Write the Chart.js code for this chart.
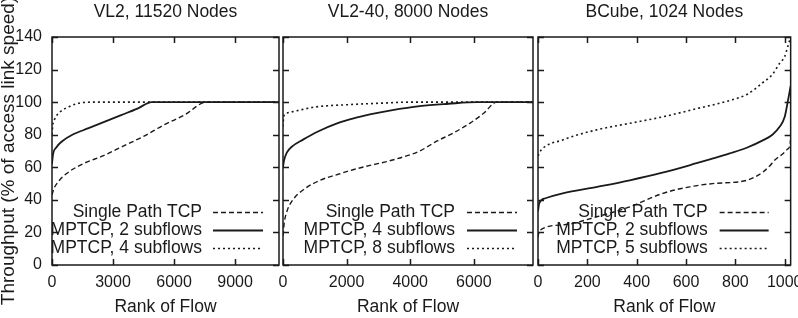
<!DOCTYPE html>
<html>
<head>
<meta charset="UTF-8" />
<title>Throughput by flow rank</title>
<script src="https://cdn.jsdelivr.net/npm/chart.js"></script>
<style>
  html, body { margin: 0; padding: 0; overflow: hidden; background: #fff; }
  body { width: 798px; height: 318px; position: relative; }
  .panel { position: absolute; top: 0; height: 318px; }
</style>
</head>
<body>
<div class="panel" style="left:0;width:338px"><canvas id="c1"></canvas></div>
<div class="panel" style="left:263px;width:290px"><canvas id="c2"></canvas></div>
<div class="panel" style="left:518px;width:293px"><canvas id="c3"></canvas></div>
<script>
// ---- data ----
const yTicks = [0, 20, 40, 60, 80, 100, 120, 140];

// VL2, 11520 nodes
const vl2Ticks   = [0, 3000, 6000, 9000];
const vl2TcpRank = [0, 100, 300, 700, 1500, 2500, 3500, 4500, 5500, 6500, 7600, 11160];
const vl2TcpVal  = [43, 47, 51, 56, 62, 67, 73, 79, 86, 92, 100, 100];
const vl2Mp2Rank = [0, 50, 200, 500, 1000, 1800, 2600, 3400, 4200, 4900, 11160];
const vl2Mp2Val  = [62, 68, 72, 76, 80, 84, 88, 92, 96, 100, 100];
const vl2Mp4Rank = [0, 30, 150, 400, 800, 1300, 1900, 11160];
const vl2Mp4Val  = [80, 85, 90, 94, 97, 99.3, 100, 100];
const vl2Labels  = ['Single Path TCP', 'MPTCP, 2 subflows', 'MPTCP, 4 subflows'];

// VL2-40, 8000 nodes
const vl40Ticks   = [0, 2000, 4000, 6000];
const vl40TcpRank = [0, 40, 125, 310, 700, 1160, 1700, 2200, 2700, 3260, 3800, 4300, 4830, 5350, 5870, 6300, 6720, 7860];
const vl40TcpVal  = [18, 26, 33, 40, 47, 52, 55.5, 58.5, 61, 63.5, 66.5, 70, 76, 81, 87, 93, 100, 100];
const vl40Mp4Rank = [0, 30, 120, 300, 630, 1100, 1700, 2300, 2730, 3400, 4300, 5200, 6100, 7860];
const vl40Mp4Val  = [60, 64, 69, 73, 77, 82, 87, 90.5, 92.5, 95, 97.6, 99, 100, 100];
const vl40Mp8Rank = [0, 20, 125, 500, 1000, 2100, 3000, 4000, 7860];
const vl40Mp8Val  = [85, 91, 93.3, 95, 97, 98.5, 99.3, 100, 100];
const vl40Labels  = ['Single Path TCP', 'MPTCP, 4 subflows', 'MPTCP, 8 subflows'];

// BCube, 1024 nodes
const bcTicks   = [0, 200, 400, 600, 800, 1000];
const bcTcpRank = [0, 5, 100, 238, 372, 506, 615, 708, 846, 911, 940, 960, 990, 1010, 1020, 1024];
const bcTcpVal  = [17, 21, 24.6, 29.6, 35.7, 44, 48, 50, 52, 57, 61, 64.5, 68, 71, 73, 77];
const bcMp2Rank = [0, 5, 30, 100, 240, 372, 500, 643, 700, 777, 846, 911, 950, 980, 1000, 1012, 1024];
const bcMp2Val  = [33, 38, 41, 44, 48, 52, 56.5, 62.5, 65, 68.5, 72, 76.5, 80, 85, 91, 100, 110];
const bcMp5Rank = [0, 10, 100, 238, 372, 506, 643, 777, 850, 911, 950, 980, 1000, 1012, 1024];
const bcMp5Val  = [67, 70, 76.8, 83, 87, 91, 96, 101, 105, 112, 117, 124, 128, 134, 140];
const bcLabels  = ['Single Path TCP', 'MPTCP, 2 subflows', 'MPTCP, 5 subflows'];

const FONT = '"Liberation Sans", Arial, Helvetica, sans-serif';
const INK = '#1a1a1a';

const pts = (xs, ys) => xs.map((x, i) => ({ x, y: ys[i] }));

// gnuplot-like frame: box, inward ticks on all sides, legend inside bottom right
const framePlugin = {
  id: 'frame',
  afterDatasetsDraw(chart) {
    const { ctx, chartArea: a, scales: { x, y } } = chart;
    const o = chart.options.plugins.frame;
    ctx.save();
    ctx.strokeStyle = INK;
    ctx.lineWidth = 1.5;
    ctx.setLineDash([]);
    ctx.beginPath();
    x.ticks.forEach(t => {
      const px = Math.round(x.getPixelForValue(t.value)) + 0.5;
      ctx.moveTo(px, a.bottom); ctx.lineTo(px, a.bottom - 6);
      ctx.moveTo(px, a.top); ctx.lineTo(px, a.top + 6);
    });
    y.ticks.forEach(t => {
      const py = Math.round(y.getPixelForValue(t.value)) + 0.5;
      ctx.moveTo(a.left, py); ctx.lineTo(a.left + 6, py);
      ctx.moveTo(a.right, py); ctx.lineTo(a.right - 6, py);
    });
    ctx.stroke();
    ctx.strokeRect(a.left, a.top, a.right - a.left, a.bottom - a.top);

    // legend
    ctx.font = '17.5px ' + FONT;
    ctx.fillStyle = INK;
    ctx.textAlign = 'right';
    ctx.textBaseline = 'middle';
    chart.data.datasets.forEach((ds, i) => {
      const yy = a.bottom - o.rows[i];
      ctx.fillText(ds.label, a.right - o.textRight, yy);
      ctx.setLineDash(ds.borderDash || []);
      ctx.lineWidth = ds.borderWidth;
      ctx.beginPath();
      ctx.moveTo(a.right - o.lineStart, yy + 0.5);
      ctx.lineTo(a.right - o.lineEnd, yy + 0.5);
      ctx.stroke();
    });
    ctx.restore();
  }
};

function makeChart(id, cfg) {
  const datasets = [
    { label: cfg.labels[0], data: pts(cfg.tcp[0], cfg.tcp[1]), borderDash: [5, 3], borderWidth: 1.4 },
    { label: cfg.labels[1], data: pts(cfg.mpA[0], cfg.mpA[1]), borderDash: [], borderWidth: 1.8 },
    { label: cfg.labels[2], data: pts(cfg.mpB[0], cfg.mpB[1]), borderDash: [2, 3], borderWidth: 1.6 }
  ].map(d => Object.assign(d, {
    borderColor: INK, pointRadius: 0, fill: false, cubicInterpolationMode: 'monotone'
  }));

  return new Chart(document.getElementById(id), {
    type: 'line',
    data: { datasets },
    options: {
      responsive: true,
      maintainAspectRatio: false,
      animation: false,
      layout: { padding: { left: cfg.padL, right: cfg.padR, top: 2, bottom: 0 } },
      plugins: {
        legend: { display: false },
        tooltip: { enabled: false },
        title: {
          display: true, text: cfg.title, color: INK, fullSize: false,
          font: { family: FONT, size: 17.5, weight: 'normal' },
          padding: { top: 0, bottom: 14 }
        },
        frame: cfg.legend
      },
      scales: {
        x: {
          type: 'linear', min: 0, max: cfg.xMax,
          afterFit: s => { s.height = 53; },
          afterBuildTicks: s => { s.ticks = cfg.xTicks.map(v => ({ value: v })); },
          ticks: {
            padding: 8, callback: v => String(v),
            color: INK, font: { family: FONT, size: 16 }
          },
          grid: { display: false, drawTicks: false },
          border: { display: false },
          title: {
            display: true, text: 'Rank of Flow', color: INK,
            font: { family: FONT, size: 17.5 }, padding: 0
          }
        },
        y: {
          min: 0, max: 140,
          afterFit: s => { s.width = cfg.yWidth; },
          afterBuildTicks: s => { s.ticks = yTicks.map(v => ({ value: v })); },
          ticks: {
            display: cfg.yLabels, padding: 10,
            color: INK, font: { family: FONT, size: 16 }
          },
          grid: { display: false, drawTicks: false },
          border: { display: false },
          title: {
            display: cfg.yLabels, text: 'Throughput (% of access link speed)', color: INK,
            font: { family: FONT, size: 19, lineHeight: 0.9 }, padding: 0
          }
        }
      }
    },
    plugins: [framePlugin]
  });
}

makeChart('c1', {
  title: 'VL2, 11520 Nodes', labels: vl2Labels, xTicks: vl2Ticks,
  tcp: [vl2TcpRank, vl2TcpVal], mpA: [vl2Mp2Rank, vl2Mp2Val], mpB: [vl2Mp4Rank, vl2Mp4Val],
  xMax: 11160, padL: 0, padR: 59, yWidth: 52, yLabels: true,
  legend: { rows: [53, 35, 17], textRight: 77, lineStart: 66, lineEnd: 16 }
});
makeChart('c2', {
  title: 'VL2-40, 8000 Nodes', labels: vl40Labels, xTicks: vl40Ticks,
  tcp: [vl40TcpRank, vl40TcpVal], mpA: [vl40Mp4Rank, vl40Mp4Val], mpB: [vl40Mp8Rank, vl40Mp8Val],
  xMax: 7860, padL: 20, padR: 20, yWidth: 0, yLabels: false,
  legend: { rows: [53, 35, 17], textRight: 78, lineStart: 66, lineEnd: 16 }
});
makeChart('c3', {
  title: 'BCube, 1024 Nodes', labels: bcLabels, xTicks: bcTicks,
  tcp: [bcTcpRank, bcTcpVal], mpA: [bcMp2Rank, bcMp2Val], mpB: [bcMp5Rank, bcMp5Val],
  xMax: 1024, padL: 20, padR: 20, yWidth: 0, yLabels: false,
  legend: { rows: [53, 35, 17], textRight: 83, lineStart: 71, lineEnd: 22 }
});
</script>
</body>
</html>
